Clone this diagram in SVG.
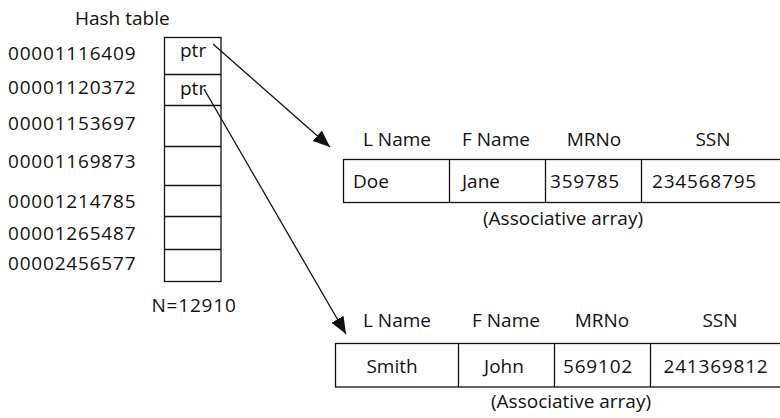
<svg xmlns="http://www.w3.org/2000/svg" width="780" height="418" viewBox="0 0 780 418">
<style>
text{font-family:"Open Sans","Noto Sans","DejaVu Sans",sans-serif;font-size:19px;fill:#111}
.c{text-anchor:middle}
.n{letter-spacing:0.8px}
.box{fill:none;stroke:#111;stroke-width:1.3}
.ln{stroke:#111;stroke-width:1.3;fill:none}
.conn{stroke:#111;stroke-width:1.3;fill:none;marker-end:url(#ah)}
</style>
<defs>
<marker id="ah" markerUnits="userSpaceOnUse" markerWidth="18" markerHeight="15" refX="17" refY="7" orient="auto">
<path d="M0,0 L17,7 L0,14 z" fill="#111"/>
</marker>
</defs>
<rect width="780" height="418" fill="#fff"/>
<g id="hashtable">
<text x="75" y="25">Hash table</text>
<rect class="box" x="164.5" y="37.5" width="56.5" height="244"/>
<path class="ln" d="M164.5,74.5H221M164.5,105.5H221M164.5,146.5H221M164.5,185.5H221M164.5,216.5H221M164.5,249.5H221"/>
<text x="180" y="57">ptr</text>
<text x="180" y="95">ptr</text>
<text class="n" x="8" y="60">00001116409</text>
<text class="n" x="8" y="94">00001120372</text>
<text class="n" x="8" y="130">00001153697</text>
<text class="n" x="8" y="168">00001169873</text>
<text class="n" x="8" y="208">00001214785</text>
<text class="n" x="8" y="240">00001265487</text>
<text class="n" x="8" y="270">00002456577</text>
<text class="c n" x="194" y="312">N=12910</text>
</g>
<g id="array1">
<text x="397" y="146" class="c">L Name</text>
<text x="496" y="146" class="c">F Name</text>
<text x="594" y="146" class="c">MRNo</text>
<text x="713" y="146" class="c">SSN</text>
<rect class="box" x="343.5" y="159.5" width="440" height="43"/>
<path class="ln" d="M449.5,159.5V202.5M545.5,159.5V202.5M641.5,159.5V202.5"/>
<text x="353" y="188">Doe</text>
<text x="462" y="188">Jane</text>
<text class="n" x="550" y="188">359785</text>
<text class="n" x="652" y="188">234568795</text>
<text x="563" y="225" class="c">(Associative array)</text>
</g>
<g id="array2">
<text x="397" y="327" class="c">L Name</text>
<text x="506" y="327" class="c">F Name</text>
<text x="602" y="327" class="c">MRNo</text>
<text x="720" y="327" class="c">SSN</text>
<rect class="box" x="335.5" y="343.5" width="450" height="43.5"/>
<path class="ln" d="M458.5,343.5V387M554.5,343.5V387M650.5,343.5V387"/>
<text x="392" y="373" class="c">Smith</text>
<text x="504" y="373" class="c">John</text>
<text class="c n" x="598" y="373">569102</text>
<text class="c n" x="716" y="373">241369812</text>
<text x="571" y="408" class="c">(Associative array)</text>
</g>
<g id="connectors">
<line class="conn" x1="213" y1="44" x2="330" y2="147"/>
<line class="conn" x1="204" y1="89" x2="346" y2="334"/>
</g>
</svg>
